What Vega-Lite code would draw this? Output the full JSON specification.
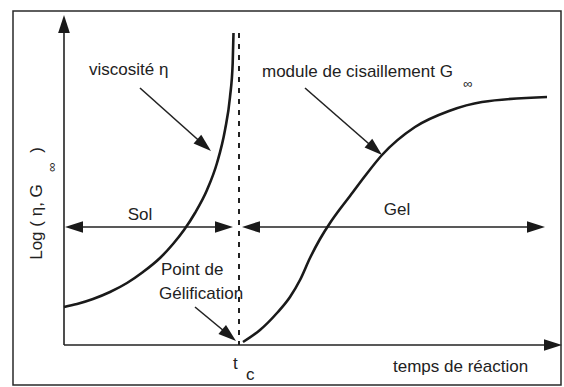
{
  "$schema": "https://vega.github.io/schema/vega-lite/v6.json",
  "width": 564,
  "height": 387,
  "padding": 0,
  "autosize": {"type": "fit", "contains": "padding"},
  "background": "white",
  "config": {"view": {"stroke": null}},
  "datasets": {
    "frame": [{"x": 13, "y": 11, "x2": 561, "y2": 385}],
    "viscosity": [
      {"x": 64, "y": 307}, {"x": 77, "y": 304}, {"x": 93, "y": 299}, {"x": 110, "y": 292},
      {"x": 127, "y": 283}, {"x": 143, "y": 272}, {"x": 160, "y": 258}, {"x": 173, "y": 244},
      {"x": 184, "y": 230}, {"x": 195, "y": 213}, {"x": 207, "y": 190}, {"x": 217, "y": 163},
      {"x": 225, "y": 130}, {"x": 230, "y": 97}, {"x": 232.7, "y": 63}, {"x": 233.5, "y": 33}
    ],
    "modulus": [
      {"x": 243, "y": 342}, {"x": 260, "y": 330}, {"x": 277, "y": 313}, {"x": 290, "y": 297},
      {"x": 300, "y": 280}, {"x": 310, "y": 258}, {"x": 320, "y": 239}, {"x": 330, "y": 223},
      {"x": 340, "y": 209}, {"x": 350, "y": 196}, {"x": 365, "y": 176}, {"x": 382, "y": 155},
      {"x": 415, "y": 127}, {"x": 449, "y": 111}, {"x": 482, "y": 102}, {"x": 547, "y": 97}
    ],
    "shafts": [
      {"x": 64, "y": 345, "x2": 64, "y2": 25},
      {"x": 64, "y": 345, "x2": 552, "y2": 345},
      {"x": 75, "y": 227, "x2": 224, "y2": 227},
      {"x": 252, "y": 227, "x2": 536, "y2": 227},
      {"x": 140, "y": 88, "x2": 205, "y2": 146},
      {"x": 305, "y": 88, "x2": 376, "y2": 150},
      {"x": 195, "y": 307, "x2": 230, "y2": 336}
    ],
    "heads": [
      {"x": 64, "y": 15, "dir": 270},
      {"x": 562, "y": 345, "dir": 0},
      {"x": 65, "y": 227, "dir": 180},
      {"x": 233, "y": 227, "dir": 0},
      {"x": 242, "y": 227, "dir": 180},
      {"x": 545, "y": 227, "dir": 0},
      {"x": 211, "y": 151, "dir": 41},
      {"x": 382, "y": 155, "dir": 41},
      {"x": 236, "y": 341, "dir": 40}
    ],
    "dashed": [{"x": 239, "y": 33, "x2": 239, "y2": 345}],
    "labels": [
      {"x": 89, "y": 70, "label": "viscosité η"},
      {"x": 262, "y": 72, "label": "module de cisaillement G"},
      {"x": 161, "y": 270, "label": "Point de"},
      {"x": 159, "y": 294, "label": "Gélification"},
      {"x": 393, "y": 367, "label": "temps de réaction"},
      {"x": 233, "y": 364, "label": "t"},
      {"x": 246, "y": 375, "label": "c"}
    ],
    "centered": [
      {"x": 140, "y": 215, "label": "Sol"},
      {"x": 397, "y": 210, "label": "Gel"}
    ],
    "subs": [{"x": 468, "y": 84, "label": "∞"}],
    "ylabel": [
      {"x": 37, "y": 222, "label": "Log ( η, G"},
      {"x": 37, "y": 150, "label": ")"}
    ],
    "ysub": [{"x": 52, "y": 167, "label": "∞"}]
  },
  "encoding": {
    "x": {"field": "x", "type": "quantitative", "scale": {"domain": [0, 564], "nice": false, "zero": false}, "axis": null},
    "y": {"field": "y", "type": "quantitative", "scale": {"domain": [0, 387], "nice": false, "zero": false, "reverse": true}, "axis": null}
  },
  "layer": [
    {
      "data": {"name": "frame"},
      "mark": {"type": "rect", "filled": false, "stroke": "#2a2a2a", "strokeWidth": 1.5},
      "encoding": {"x2": {"field": "x2"}, "y2": {"field": "y2"}}
    },
    {
      "data": {"name": "dashed"},
      "mark": {"type": "rule", "stroke": "#222", "strokeWidth": 2, "strokeDash": [5, 6]},
      "encoding": {"x2": {"field": "x2"}, "y2": {"field": "y2"}}
    },
    {
      "data": {"name": "shafts"},
      "mark": {"type": "rule", "stroke": "#222", "strokeWidth": 1.6},
      "encoding": {"x2": {"field": "x2"}, "y2": {"field": "y2"}}
    },
    {
      "data": {"name": "viscosity"},
      "mark": {"type": "line", "stroke": "#1a1a1a", "strokeWidth": 2.6, "interpolate": "monotone"},
      "encoding": {}
    },
    {
      "data": {"name": "modulus"},
      "mark": {"type": "line", "stroke": "#1a1a1a", "strokeWidth": 2.6, "interpolate": "monotone"},
      "encoding": {}
    },
    {
      "data": {"name": "heads"},
      "mark": {"type": "point", "shape": "M0,0 L-2,-0.65 L-2,0.65 Z", "filled": true, "fill": "#1a1a1a", "opacity": 1, "size": 324, "strokeWidth": 0},
      "encoding": {"angle": {"field": "dir", "type": "quantitative", "scale": null}}
    },
    {
      "data": {"name": "labels"},
      "mark": {"type": "text", "align": "left", "baseline": "middle", "font": "Liberation Sans", "fontSize": 17, "fill": "#222"},
      "encoding": {"text": {"field": "label"}}
    },
    {
      "data": {"name": "centered"},
      "mark": {"type": "text", "align": "center", "baseline": "middle", "font": "Liberation Sans", "fontSize": 17, "fill": "#222"},
      "encoding": {"text": {"field": "label"}}
    },
    {
      "data": {"name": "subs"},
      "mark": {"type": "text", "align": "center", "baseline": "middle", "font": "Liberation Sans", "fontSize": 13, "fill": "#222"},
      "encoding": {"text": {"field": "label"}}
    },
    {
      "data": {"name": "ylabel"},
      "mark": {"type": "text", "align": "center", "baseline": "middle", "angle": 270, "font": "Liberation Sans", "fontSize": 17, "fill": "#222"},
      "encoding": {"text": {"field": "label"}}
    },
    {
      "data": {"name": "ysub"},
      "mark": {"type": "text", "align": "center", "baseline": "middle", "angle": 270, "font": "Liberation Sans", "fontSize": 13, "fill": "#222"},
      "encoding": {"text": {"field": "label"}}
    }
  ]
}
